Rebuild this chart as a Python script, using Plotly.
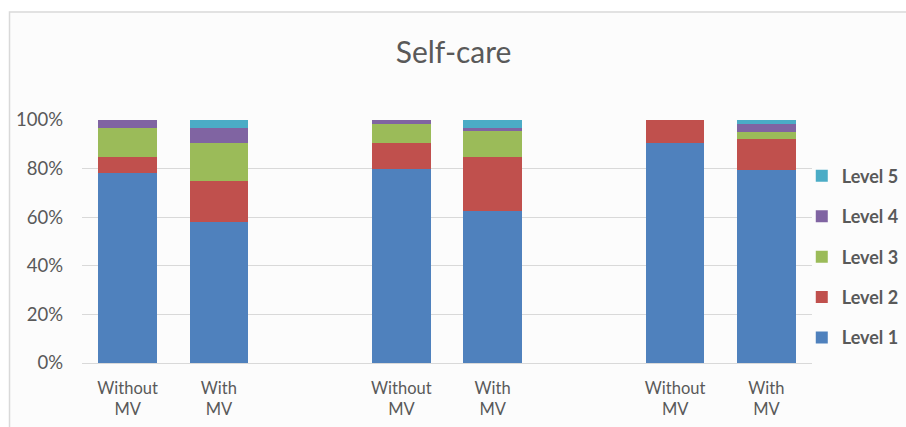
import plotly.graph_objects as go

# Category labels (blank slots separate the three groups)
categories = ["Without<br>MV", "With<br>MV", "Without<br>MV", "With<br>MV", "Without<br>MV", "With<br>MV"]
positions = [0, 1, 3, 4, 6, 7]

levels = ["Level 1", "Level 2", "Level 3", "Level 4", "Level 5"]
level1 = [78.3, 57.9, 79.8, 62.7, 90.7, 79.4]
level2 = [6.3, 17.1, 10.9, 21.9, 9.3, 12.6]
level3 = [12.2, 15.7, 7.7, 10.9, 0.0, 2.9]
level4 = [3.2, 6.1, 1.6, 1.2, 0.0, 3.5]
level5 = [0.0, 3.2, 0.0, 3.3, 0.0, 1.6]
colors = ["#4F81BD", "#C0504D", "#9BBB59", "#8064A2", "#4BACC6"]

series = [level1, level2, level3, level4, level5]
font_family = "Lato, Open Sans, sans-serif"
text_color = "#595959"

fig = go.Figure()
for i, (name, vals, col) in enumerate(zip(levels, series, colors)):
    fig.add_trace(go.Bar(
        x=positions,
        y=[v / 100 for v in vals],
        name=name,
        marker=dict(color=col, line=dict(width=0)),
        width=0.64,
        legendgroup=name,
        legendrank=len(levels) - i,  # top level listed first
    ))

fig.update_layout(
    barmode="stack",
    width=906,
    height=427,
    margin=dict(l=82, r=94, t=120, b=64, autoexpand=False),
    paper_bgcolor="white",
    plot_bgcolor="rgba(0,0,0,0)",
    font=dict(family=font_family, color=text_color, size=14),
    title=dict(text="Self-care", x=0.509, xref="paper", xanchor="center", y=0.878, yanchor="middle",
               font=dict(size=30, color=text_color, family=font_family)),
    showlegend=True,
    legend=dict(
        x=0.986, xanchor="left", y=0.845, yanchor="top",
        traceorder="grouped",
        tracegroupgap=14,
        font=dict(size=18, color=text_color, weight=700),
        bgcolor="rgba(0,0,0,0)",
        itemwidth=30,
    ),
    xaxis=dict(
        tickmode="array", tickvals=positions, ticktext=categories,
        range=[-0.5, 7.5], showgrid=False, zeroline=False,
        showline=True, linecolor="#d9d9d9", linewidth=1,
        ticks="", ticklabelstandoff=10,
        tickfont=dict(size=16.5, color=text_color),
    ),
    yaxis=dict(
        range=[0, 1], tickvals=[0, 0.2, 0.4, 0.6, 0.8, 1.0], tickformat=".0%",
        showgrid=True, gridcolor="#d9d9d9", gridwidth=1, zeroline=False,
        showline=False, ticks="", ticklabelstandoff=18,
        tickfont=dict(size=18.5, color=text_color),
    ),
    shapes=[dict(
        type="rect", xref="paper", yref="paper",
        x0=-0.0993, x1=1.3, y0=-0.5, y1=1.444,
        fillcolor="#fcfcfc", line=dict(color="#d9d9d9", width=1.5), layer="below",
    )],
)

fig.write_html("out.html")
